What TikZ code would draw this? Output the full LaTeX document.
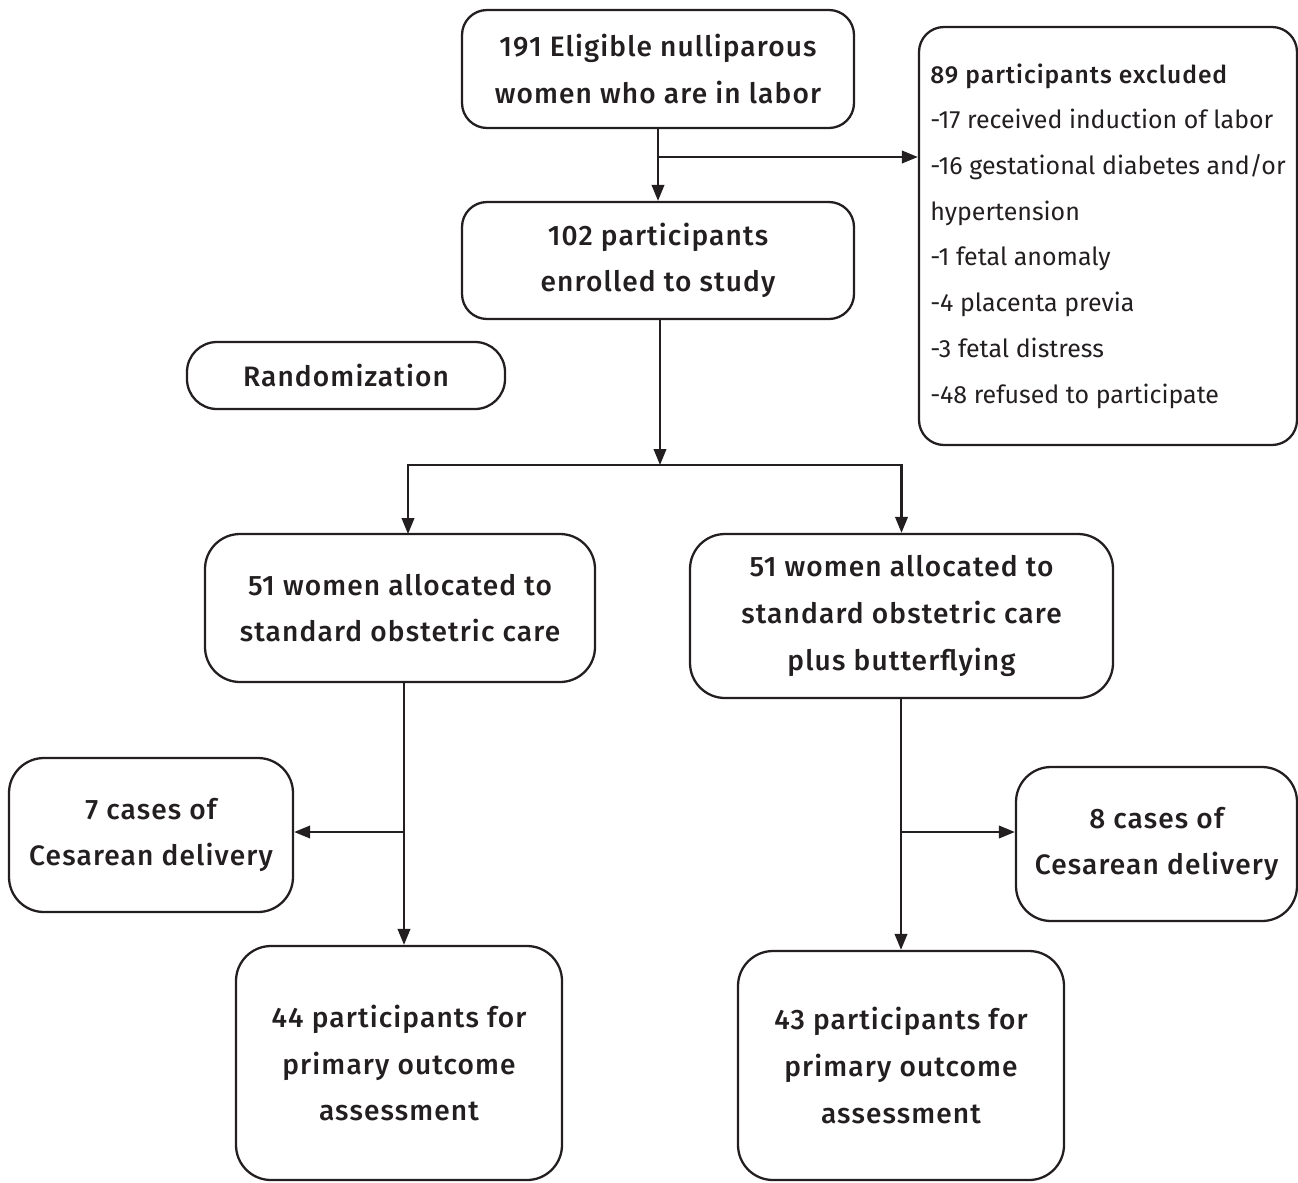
\documentclass[tikz,border=0pt]{standalone}
\usepackage{fontspec}
\setmainfont{Fira Sans}[BoldFont={Fira Sans Medium},BoldFeatures={LetterSpace=4}]
\usetikzlibrary{arrows.meta}
\definecolor{tinta}{HTML}{231F20}
\begin{document}
\begin{tikzpicture}[line width=1.3pt,draw=tinta,text=tinta,
  caixa/.style={draw=tinta,rounded corners=0.5cm,align=center,inner sep=0pt,font=\fontsize{16pt}{26.5pt}\selectfont\bfseries},
  lista/.style={caixa,align=left,font=\fontsize{14.2pt}{26pt}\selectfont},
  seta/.style={draw=tinta,-{Triangle[length=3.2mm,width=2.5mm]}}]
  \useasboundingbox (0,0) rectangle (25.96,-23.64);
  % caixas do fluxograma
  \node[caixa,minimum width=7.84cm,minimum height=2.36cm] (c1) at (13.16,-1.38) {191 Eligible nulliparous\\women who are in labor};
  \node[caixa,minimum width=7.84cm,minimum height=2.34cm] (c2) at (13.16,-5.21) {102 participants\\enrolled to study};
  \node[lista,minimum width=7.56cm,minimum height=8.36cm] (c3) at (22.16,-4.72)
    {{\fontsize{14pt}{26pt}\selectfont\bfseries 89 participants excluded}\\-17 received induction of labor\\-16 gestational diabetes and/or\\hypertension\\-1 fetal anomaly\\-4 placenta previa\\-3 fetal distress\\-48 refused to participate};
  \node[caixa,rounded corners=0.6cm,minimum width=6.36cm,minimum height=1.34cm] (c4) at (6.92,-7.51) {Randomization};
  \node[caixa,rounded corners=0.7cm,minimum width=7.8cm,minimum height=2.96cm] (c5) at (8.0,-12.16) {51 women allocated to\\standard obstetric care};
  \node[caixa,rounded corners=0.7cm,minimum width=8.46cm,minimum height=3.28cm] (c6) at (18.03,-12.32) {51 women allocated to\\standard obstetric care\\plus butterflying};
  \node[caixa,rounded corners=0.7cm,minimum width=5.68cm,minimum height=3.08cm] (c7) at (3.02,-16.7) {7 cases of\\Cesarean delivery};
  \node[caixa,rounded corners=0.7cm,minimum width=5.62cm,minimum height=3.08cm] (c8) at (23.13,-16.88) {8 cases of\\Cesarean delivery};
  \node[caixa,rounded corners=0.7cm,minimum width=6.52cm,minimum height=4.68cm] (c9) at (7.98,-21.26) {44 participants for\\primary outcome\\assessment};
  \node[caixa,rounded corners=0.7cm,minimum width=6.52cm,minimum height=4.58cm] (c10) at (18.02,-21.31) {43 participants for\\primary outcome\\assessment};
  % pontos de ramificação
  \coordinate (v1) at (13.16,-3.14);
  \coordinate (v2) at (13.2,-9.3);
  \coordinate (v3) at (8.08,-16.64);
  \coordinate (v4) at (18.02,-16.64);
  % setas
  \draw[seta] (c1) -- (c2);
  \draw[seta] (v1) -- (c3.west |- v1);
  \draw[seta] (c2.south -| v2) -- (v2);
  \draw[seta] (v2) -| (8.16,-10.68);
  \draw[seta] (v2) -| (c6.north);
  \draw[seta] (c5.south -| v3) -- (c9.north -| v3);
  \draw[seta] (v3) -- (c7.east |- v3);
  \draw[seta] (c6.south -| v4) -- (c10.north -| v4);
  \draw[seta] (v4) -- (c8.west |- v4);
\end{tikzpicture}
\end{document}
